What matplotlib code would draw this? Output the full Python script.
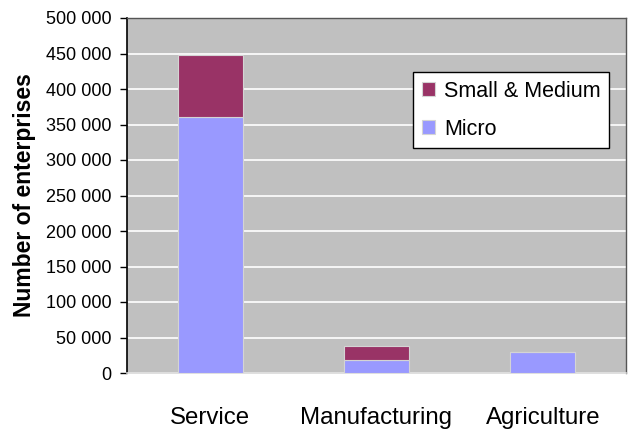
import matplotlib
matplotlib.use("Agg")
import matplotlib.pyplot as plt
from matplotlib.ticker import FuncFormatter

plt.rcParams["font.family"] = ["Liberation Sans", "DejaVu Sans"]

# ---------------------------------------------------------------------------
# Data
# ---------------------------------------------------------------------------
sectors = ["Service", "Manufacturing", "Agriculture"]
micro = [360000, 18000, 29500]
small_medium = [88000, 20000, 500]

_MICRO_COLOUR = "#9999FF"
_SM_COLOUR = "#993366"
_BG_COLOUR = "#C0C0C0"

fig = plt.figure(figsize=(6.28, 4.37), dpi=100)
ax = fig.add_axes([127 / 628, 1 - 373 / 437, (626 - 127) / 628, (373 - 18) / 437])
ax.set_facecolor(_BG_COLOUR)

x = range(len(sectors))
bar_kw = dict(width=0.39, edgecolor="#D4D4D4", linewidth=0.8, zorder=3)
ax.bar(x, micro, color=_MICRO_COLOUR, label="Micro", **bar_kw)
ax.bar(x, small_medium, bottom=micro, color=_SM_COLOUR, label="Small & Medium", **bar_kw)

ax.set_xlim(-0.5, len(sectors) - 0.5)
ax.set_ylim(0, 500000)
ax.set_yticks(range(0, 500001, 50000))
ax.yaxis.set_major_formatter(FuncFormatter(lambda v, _: f"{int(v):,}".replace(",", " ")))
ax.grid(axis="y", color="white", linewidth=1.2, zorder=1)

ax.set_xticks(list(x))
ax.set_xticklabels(sectors, fontsize=17.3)
ax.tick_params(axis="x", length=0, pad=24.5)
ax.tick_params(axis="y", length=5, width=1, labelsize=13, pad=6)

ax.set_ylabel("Number of enterprises", fontsize=16.5, fontweight="bold")
ax.yaxis.set_label_coords((36 - 127) / 499, 0.5)

ax.spines["left"].set_color("black")
ax.spines["left"].set_linewidth(1.2)
for side in ("top", "right"):
    ax.spines[side].set_color("#555555")
    ax.spines[side].set_linewidth(1.0)
ax.spines["bottom"].set_color("#D9D9D9")
ax.spines["bottom"].set_linewidth(1.2)

handles, labels = ax.get_legend_handles_labels()
leg = ax.legend(
    handles[::-1], labels[::-1],
    loc="upper left", bbox_to_anchor=((413 - 127) / 499, (373 - 72) / 355),
    borderaxespad=0, fontsize=15.5, frameon=True, fancybox=False, framealpha=1,
    edgecolor="black", handlelength=0.6, handleheight=0.6,
    handletextpad=0.45, borderpad=0.4, labelspacing=0.8,
)
leg.get_frame().set_linewidth(1.0)
leg.set_zorder(5)

fig.savefig("out.png", dpi=100)
